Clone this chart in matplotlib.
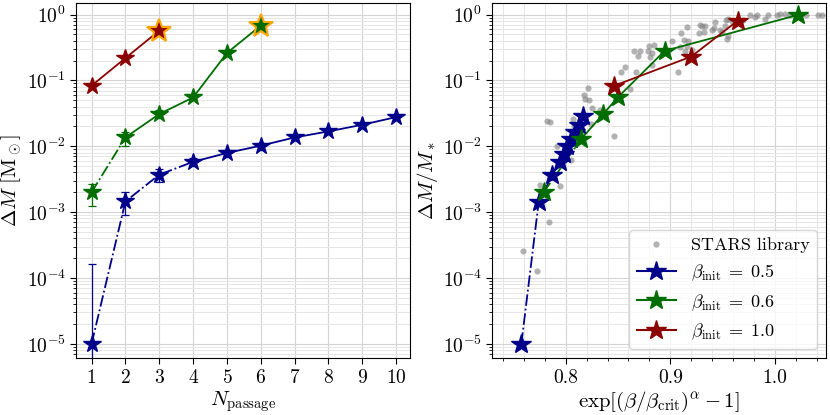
import matplotlib
matplotlib.use("Agg")
import matplotlib.pyplot as plt
from matplotlib.lines import Line2D
from matplotlib.ticker import MultipleLocator, LogLocator, NullFormatter
import numpy as np

# passages
n_blue = [1, 2, 3, 4, 5, 6, 7, 8, 9, 10]
n_green = [1, 2, 3, 4, 5, 6]
n_red = [1, 2, 3]

# mass lost per passage (left panel)
dm_blue = [1.0e-5, 1.45e-3, 3.7e-3, 5.8e-3, 7.9e-3, 1.02e-2, 1.36e-2, 1.68e-2, 2.12e-2, 2.77e-2]
dm_blue_lo = [1.0e-7, 8.9e-4, 2.9e-3, 5.0e-3, 6.8e-3, 8.8e-3, 1.25e-2, 1.58e-2, 2.0e-2, 2.65e-2]
dm_blue_hi = [1.65e-4, 2.0e-3, 4.5e-3, 6.6e-3, 8.8e-3, 1.12e-2, 1.45e-2, 1.78e-2, 2.22e-2, 2.9e-2]
dm_green = [2.0e-3, 1.36e-2, 3.08e-2, 5.5e-2, 0.26, 0.68]
dm_green_lo = [1.25e-3, 1.0e-2, 2.7e-2, 5.2e-2, 0.25, 0.66]
dm_green_hi = [2.67e-3, 1.65e-2, 3.5e-2, 5.8e-2, 0.27, 0.70]
dm_red = [0.083, 0.218, 0.57]

# right panel: exp[(beta/beta_crit)^alpha - 1] vs dM/M*
xb_blue = [0.7577, 0.7742, 0.787, 0.7943, 0.798, 0.8013, 0.805, 0.8086, 0.8124, 0.8166]
fm_blue = [1.0e-5, 1.4e-3, 3.6e-3, 5.8e-3, 7.7e-3, 1.0e-2, 1.3e-2, 1.65e-2, 2.1e-2, 2.9e-2]
xb_green = [0.779, 0.815, 0.836, 0.8497, 0.8945, 1.0223]
fm_green = [2.0e-3, 1.3e-2, 3.1e-2, 5.5e-2, 0.28, 0.99]
xb_red = [0.8465, 0.920, 0.9645]
fm_red = [0.083, 0.23, 0.81]

# STARS library points
stars_x = [0.7593, 0.7730, 0.7840, 0.7756, 0.7950, 0.7822, 0.7854, 0.7915, 0.8051, 0.8067,
           0.8080, 0.8242, 0.8216, 0.8178, 0.8185, 0.8223, 0.8252, 0.8330, 0.8460, 0.8528,
           0.8563, 0.8675, 0.8610, 0.8655, 0.8712, 0.8690, 0.8800, 0.8786, 0.8824, 0.8808,
           0.8824, 0.8840, 0.9015, 0.9069, 0.9104, 0.9158, 0.9094, 0.9142, 0.9158, 0.9126,
           0.9170, 0.9206, 0.9280, 0.9270, 0.9300, 0.9333, 0.9323, 0.9397, 0.9430, 0.9412,
           0.9476, 0.9490, 0.9533, 0.9555, 0.9523, 0.9540, 0.9587, 0.9698, 0.9760, 0.9810,
           0.9830, 0.9905, 0.9937, 1.0016, 1.0048, 1.0096, 1.0143, 1.0300, 1.0414, 1.0446,
           0.9555]
stars_y = [2.6e-4, 1.28e-4, 7.1e-4, 2.6e-3, 2.45e-3, 2.4e-2, 2.3e-2, 1.0e-2, 6.1e-3, 2.58e-2,
           2.0e-2, 2.2e-2, 7.6e-2, 5.9e-2, 5.2e-2, 4.96e-2, 3.8e-2, 3.6e-2, 1.45e-2, 0.132,
           0.159, 0.136, 0.0746, 0.281, 0.281, 0.236, 0.335, 0.284, 0.26, 0.223,
           0.173, 0.347, 0.39, 0.134, 0.52, 0.64, 0.32, 0.284, 0.33, 0.41,
           0.39, 0.29, 0.70, 0.52, 0.66, 0.68, 0.55, 0.59, 0.78, 0.63,
           0.59, 0.55, 0.83, 0.86, 0.68, 0.43, 0.80, 0.83, 0.97, 0.91,
           0.97, 0.86, 0.99, 0.97, 1.02, 1.01, 0.99, 1.0, 1.0, 0.99,
           0.475]

BLUE = "#00008b"
GREEN = "#006d00"
RED = "#8b0000"

plt.rcParams["font.family"] = "serif"
plt.rcParams["font.serif"] = ["cmr10"]
plt.rcParams["mathtext.fontset"] = "cm"
plt.rcParams["axes.formatter.use_mathtext"] = True


def style_axes(ax):
    ax.set_yscale("log")
    ax.set_ylim(10**-5.22, 10**0.18)
    ax.yaxis.set_major_locator(LogLocator(base=10, numticks=10))
    ax.yaxis.set_minor_locator(LogLocator(base=10, subs=np.arange(2, 10), numticks=20))
    ax.yaxis.set_minor_formatter(NullFormatter())
    ax.grid(which="major", color="0.83", lw=0.8)
    ax.grid(which="minor", color="0.9", lw=0.7)
    ax.set_axisbelow(True)
    ax.tick_params(axis="both", which="major", labelsize=14, direction="out", length=4)
    ax.tick_params(axis="both", which="minor", direction="out", length=2.5)


def seg_plot(ax, x, y, n_dash, color, ms):
    # dash-dot for the first segments, solid afterwards
    ax.plot(x[:n_dash + 1], y[:n_dash + 1], "-.", color=color, lw=1.3, zorder=2)
    ax.plot(x[n_dash:], y[n_dash:], "-", color=color, lw=1.3, zorder=2)
    ax.plot(x, y, "*", color=color, ms=ms, ls="none", zorder=3)


def main():
    fig = plt.figure(figsize=(8.3, 4.15), dpi=100)
    ax_l = fig.add_axes([0.092, 0.1366, 0.4024, 0.857])
    ax_r = fig.add_axes([0.5932, 0.1366, 0.4017, 0.857])

    # left panel
    style_axes(ax_l)
    for n, y, lo, hi, c in [(n_blue, dm_blue, dm_blue_lo, dm_blue_hi, BLUE),
                            (n_green, dm_green, dm_green_lo, dm_green_hi, GREEN)]:
        y = np.array(y)
        yerr = [y - np.array(lo), np.array(hi) - y]
        ax_l.errorbar(n, y, yerr=yerr, fmt="none", ecolor=c, elinewidth=0.9,
                      capsize=3, capthick=0.9, zorder=2)
    seg_plot(ax_l, n_blue, dm_blue, 3, BLUE, 13)
    seg_plot(ax_l, n_green, dm_green, 1, GREEN, 13)
    seg_plot(ax_l, n_red, dm_red, 0, RED, 13)
    ax_l.plot(n_green[-1], dm_green[-1], "*", color=GREEN, ms=18, mec="orange", mew=1.5, zorder=4)
    ax_l.plot(n_red[-1], dm_red[-1], "*", color=RED, ms=18, mec="orange", mew=1.5, zorder=4)
    ax_l.set_xlim(0.55, 10.42)
    ax_l.set_xticks(n_blue)
    ax_l.set_xlabel(r"$N_\mathrm{passage}$", fontsize=15, labelpad=2)
    ax_l.set_ylabel(r"$\Delta M\ [\mathrm{M}_\odot]$", fontsize=15, labelpad=2)

    # right panel
    style_axes(ax_r)
    ax_r.scatter(stars_x, stars_y, s=20, color="gray", alpha=0.6, lw=0, zorder=1)
    seg_plot(ax_r, xb_blue, fm_blue, 3, BLUE, 15)
    seg_plot(ax_r, xb_green, fm_green, 1, GREEN, 15)
    seg_plot(ax_r, xb_red, fm_red, 0, RED, 15)
    ax_r.set_xlim(0.730, 1.0484)
    ax_r.xaxis.set_major_locator(MultipleLocator(0.1))
    ax_r.xaxis.set_minor_locator(MultipleLocator(0.02))
    ax_r.xaxis.set_major_formatter(plt.FuncFormatter(lambda v, p: "%.1f" % v))
    ax_r.set_xlabel(r"$\exp[(\beta/\beta_\mathrm{crit})^\alpha-1]$", fontsize=15, labelpad=2)
    ax_r.set_ylabel(r"$\Delta M/M_*$", fontsize=15, labelpad=2)

    handles = [Line2D([], [], ls="none", marker="o", color="gray", alpha=0.6, ms=4.5, mew=0),
               Line2D([], [], color=BLUE, marker="*", ms=15),
               Line2D([], [], color=GREEN, marker="*", ms=15),
               Line2D([], [], color=RED, marker="*", ms=15)]
    labels = ["STARS library", r"$\beta_\mathrm{init}\;=\;0.5$",
              r"$\beta_\mathrm{init}\;=\;0.6$", r"$\beta_\mathrm{init}\;=\;1.0$"]
    ax_r.legend(handles, labels, loc="lower right", fontsize=13, handlelength=2.2)

    fig.savefig("out.png", dpi=100)


if __name__ == "__main__":
    main()
